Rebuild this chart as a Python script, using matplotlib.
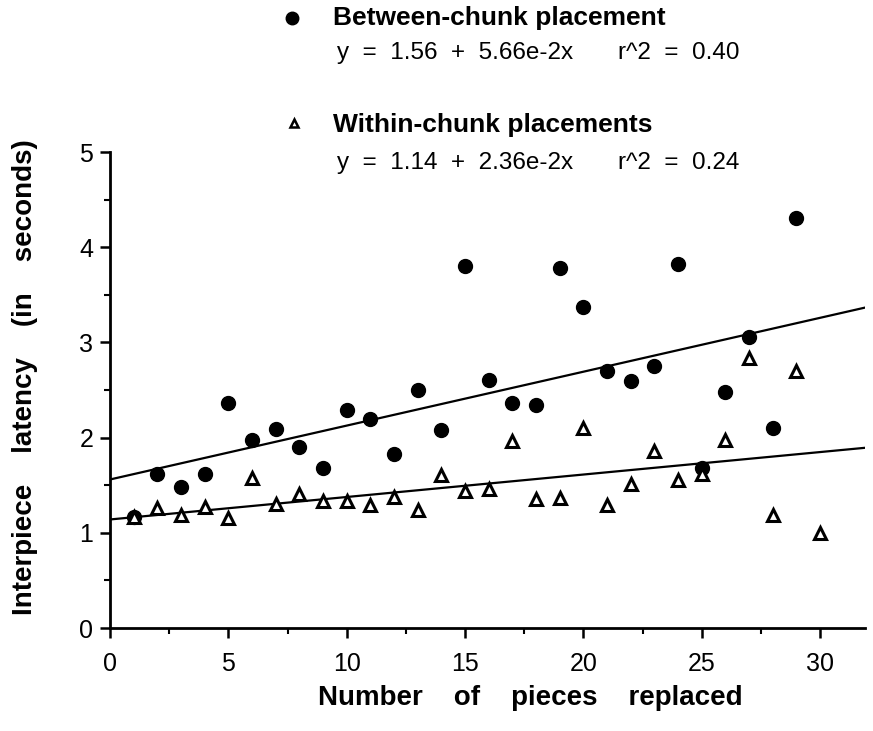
import matplotlib
matplotlib.use("Agg")
import matplotlib.pyplot as plt
import numpy as np
from matplotlib.ticker import MultipleLocator

plt.rcParams['font.family'] = ['Liberation Sans', 'DejaVu Sans']

# Data
between_x = list(range(1, 30))
between_y = [1.17, 1.62, 1.48, 1.62, 2.36, 1.97, 2.09, 1.90, 1.68, 2.29,
             2.20, 1.83, 2.50, 2.08, 3.80, 2.61, 2.36, 2.34, 3.78, 3.37,
             2.70, 2.59, 2.75, 3.82, 1.68, 2.48, 3.06, 2.10, 4.31]
within_x = list(range(1, 31))
within_y = [1.17, 1.26, 1.19, 1.27, 1.16, 1.58, 1.30, 1.41, 1.33, 1.33,
            1.29, 1.38, 1.24, 1.61, 1.44, 1.46, 1.96, 1.35, 1.37, 2.10,
            1.29, 1.51, 1.86, 1.55, 1.62, 1.97, 2.84, 1.19, 2.70, 1.00]
fit_between = (1.56, 5.66e-2)
fit_within = (1.14, 2.36e-2)
xticks = [0, 5, 10, 15, 20, 25, 30]
yticks = [0, 1, 2, 3, 4, 5]

W, H = 873, 731
fig = plt.figure(figsize=(W / 100, H / 100), dpi=100)
fig.patch.set_facecolor('white')

def fx(px):
    return px / W

def fy(py):
    return 1 - py / H

ax = fig.add_axes([fx(110), fy(628), fx(865) - fx(110), fy(152) - fy(628)])
ax.set_xlim(0, 31.9)
ax.set_ylim(0, 5)

# regression lines
xl = np.array([0, 31.9])
ax.plot(xl, fit_between[0] + fit_between[1] * xl, color='black', lw=1.6, zorder=2)
ax.plot(xl, fit_within[0] + fit_within[1] * xl, color='black', lw=1.6, zorder=2)

ax.plot(between_x, between_y, 'o', color='black', markersize=10, zorder=3, clip_on=False)
ax.plot(within_x, within_y, '^', markerfacecolor='white', markeredgecolor='black',
        markeredgewidth=2.2, markersize=8.5, linestyle='none', zorder=4, clip_on=False)

for s in ['top', 'right']:
    ax.spines[s].set_visible(False)
for s in ['left', 'bottom']:
    ax.spines[s].set_linewidth(2)

ax.set_xticks(xticks)
ax.set_yticks(yticks)
ax.xaxis.set_minor_locator(MultipleLocator(2.5))
ax.yaxis.set_minor_locator(MultipleLocator(0.5))
ax.tick_params(which='major', direction='out', length=7, width=1.8, labelsize=18)
ax.tick_params(axis='y', which='major', pad=5)
ax.tick_params(axis='x', which='major', pad=10)
ax.tick_params(which='minor', direction='out', length=4, width=1.5)

# axis labels
fig.text(fx(530), fy(698), 'Number    of    pieces    replaced', ha='center', va='center',
         fontsize=20, fontweight='bold')
fig.text(fx(25), fy(377), 'Interpiece    latency    (in    seconds)', ha='center', va='center',
         rotation=90, fontsize=20, fontweight='bold')

# legend-like annotations
ax.plot([fx(292)], [fy(18)], 'o', color='black', markersize=9, transform=fig.transFigure, clip_on=False)
fig.text(fx(333), fy(18), 'Between-chunk placement', ha='left', va='center', fontsize=19, fontweight='bold')
fig.text(fx(337), fy(53), 'y  =  1.56  +  5.66e-2x', ha='left', va='center', fontsize=17.5)
fig.text(fx(618), fy(53), 'r^2  =  0.40', ha='left', va='center', fontsize=17.5)

ax.plot([fx(294)], [fy(123)], '^', markerfacecolor='white', markeredgecolor='black', markeredgewidth=1.8,
        markersize=6, transform=fig.transFigure, clip_on=False)
fig.text(fx(333), fy(125), 'Within-chunk placements', ha='left', va='center', fontsize=19, fontweight='bold')
fig.text(fx(337), fy(163), 'y  =  1.14  +  2.36e-2x', ha='left', va='center', fontsize=17.5)
fig.text(fx(618), fy(163), 'r^2  =  0.24', ha='left', va='center', fontsize=17.5)

fig.savefig('out.png', dpi=100, facecolor='white')
